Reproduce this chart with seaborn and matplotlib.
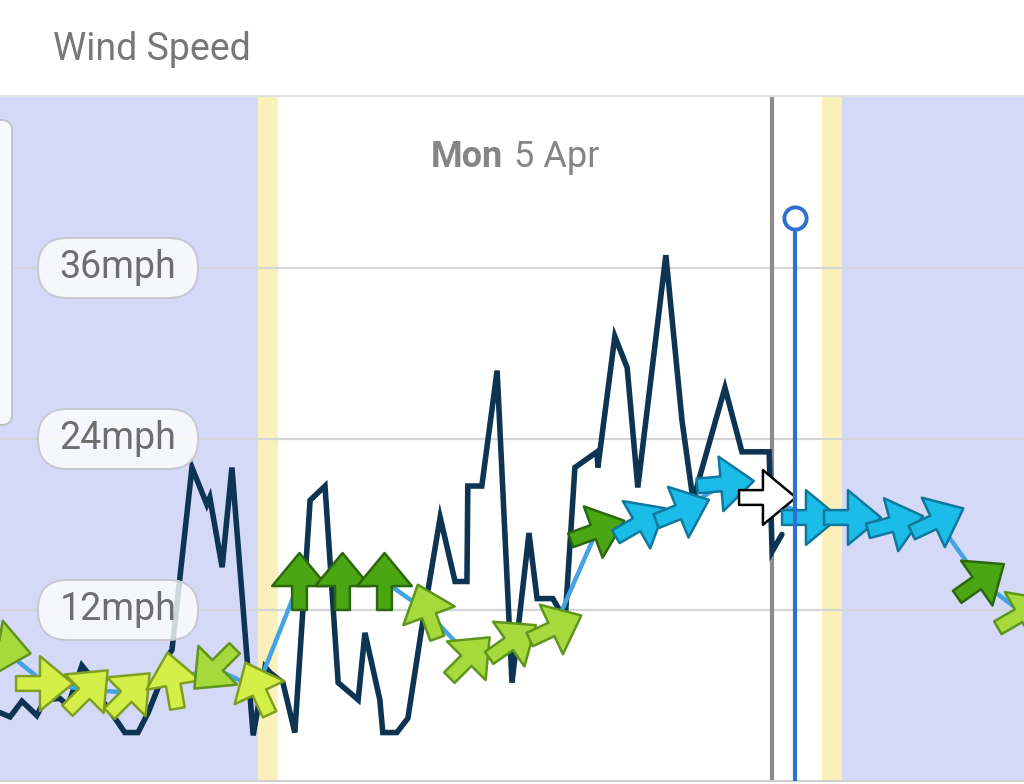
import numpy as np
import matplotlib
matplotlib.use("Agg")
import matplotlib.pyplot as plt
import seaborn as sns
from matplotlib.path import Path
from matplotlib.markers import MarkerStyle
from matplotlib.transforms import Affine2D
from matplotlib.patches import FancyBboxPatch

sns.set_theme(style="white")
plt.rcParams['font.family'] = ['Roboto', 'DejaVu Sans']

# hourly mean wind (mph) and arrow heading on screen (deg, 0 = pointing right)
hours = list(range(25))
mean_mph = [9.3, 6.9, 6.4, 6.2, 7.1, 7.9, 6.5, 14.0, 14.0, 14.0, 11.9, 8.7, 9.8,
            10.8, 17.6, 18.2, 19.0, 20.9, 19.9, 18.5, 18.5, 18.1, 18.3, 14.1, 11.8]
arrow_deg = [-10, 0, 45, 45, 100, 225, 115, 90, 90, 90, 110, 45, 35,
             25, 20, 30, 22, 5, 0, 0, 0, 15, 25, 35, 30]

# gusts
gust_hours = [-0.05, 0.19, 0.47, 0.82, 1.01, 1.36, 1.55, 1.88, 2.07, 2.35,
              2.73, 2.89, 3.20, 3.44, 3.72, 3.91, 4.00, 4.47, 4.82, 4.89,
              5.18, 5.41, 5.91, 6.19, 6.31, 6.61, 6.89, 7.25, 7.60, 7.91,
              8.38, 8.54, 8.89, 8.96, 9.29, 9.55, 9.88, 10.31, 10.66, 10.94,
              10.96, 11.29, 11.65, 12.00, 12.40, 12.59, 12.96, 13.25, 13.48, 14.00,
              14.02, 14.42, 14.71, 14.96, 15.62, 16.00, 16.26, 17.01, 17.41, 18.05,
              18.12, 18.35]
gust_mph = [4.8, 4.5, 5.6, 4.6, 5.7, 5.8, 5.3, 8.1, 7.4, 5.7,
            4.1, 3.4, 3.4, 4.8, 6.9, 8.8, 9.2, 22.0, 19.4, 19.9,
            15.0, 22.0, 3.2, 8.0, 7.6, 6.9, 3.4, 19.7, 20.7, 6.9,
            5.7, 10.4, 5.7, 3.4, 3.4, 4.4, 10.8, 18.5, 14.0, 14.0,
            20.7, 20.7, 28.8, 6.9, 17.4, 12.8, 12.8, 11.3, 22.0, 23.1,
            22.0, 31.2, 29.0, 20.6, 36.9, 25.3, 19.7, 27.6, 23.1, 23.1,
            16.1, 17.3]

grid_mph = [12, 24, 36]
grid_labels = ["12mph", "24mph", "36mph"]

dawn, sunrise, sunset, dusk = 6.02, 6.49, 19.29, 19.76
now_hour = 18.12
cursor_hour = 18.66
cursor_top = 39.5
current_idx = 18

# speed bands -> arrow colours
band_edges = [7.5, 12.0, 17.9]
band_fill = ["#d4ef47", "#a6da3c", "#4ba613", "#1bbce8"]
band_edge = ["#7f9f22", "#5f951d", "#2b680b", "#10789c"]

NIGHT = "#d4d9f8"
TWILIGHT = "#fbf0ba"

fig = plt.figure(figsize=(10.24, 7.84), dpi=100)
ax = fig.add_axes([0, 3 / 784, 1, 685 / 784])
x0, x1 = -0.047, 24.047
y1 = 48.07
ax.set_xlim(x0, x1)
ax.set_ylim(0, y1)

ax.axvspan(x0, dawn, color=NIGHT, lw=0, zorder=0)
ax.axvspan(dawn, sunrise, color=TWILIGHT, lw=0, zorder=0)
ax.axvspan(sunset, dusk, color=TWILIGHT, lw=0, zorder=0)
ax.axvspan(dusk, x1, color=NIGHT, lw=0, zorder=0)

for v in grid_mph:
    ax.axhline(v, color="#d6d6da", lw=1.6, zorder=1)

ax.axvline(now_hour, color="#8c8c8c", lw=3, zorder=2)

sns.lineplot(x=gust_hours, y=gust_mph, ax=ax, color="#0d3553", lw=4,
             estimator=None, solid_joinstyle="miter", zorder=3)
sns.lineplot(x=hours, y=mean_mph, ax=ax, color="#42a4e4", lw=3.2,
             estimator=None, zorder=4)

arrow = Path([(-0.5, -0.13), (-0.08, -0.13), (-0.08, -0.48), (0.5, 0.0),
              (-0.08, 0.48), (-0.08, 0.13), (-0.5, 0.13), (-0.5, -0.13)],
             [Path.MOVETO] + [Path.LINETO] * 6 + [Path.CLOSEPOLY])
bands = np.digitize(mean_mph, band_edges)
for i, (h, v, a) in enumerate(zip(hours, mean_mph, arrow_deg)):
    fc, ec = band_fill[bands[i]], band_edge[bands[i]]
    if i == current_idx:
        fc, ec = "white", "black"
    m = MarkerStyle(arrow, transform=Affine2D().rotate_deg(a))
    ax.plot(h, v, marker=m, ms=41, mfc=fc, mec=ec, mew=1.8, ls="none", zorder=5)

ax.vlines(cursor_hour, 0, cursor_top, color="#2f6fcf", lw=3, zorder=6)
ax.plot(cursor_hour, cursor_top, "o", ms=16, mfc="white", mec="#2f6fcf", mew=2.8, zorder=7)

# y labels in pill shapes (x in axes fraction, y in mph)
px_per_mph = 685 / y1
pill_w, pill_h = 160 / 1024, 60 / px_per_mph
for v, lab in zip(grid_mph, grid_labels):
    pill = FancyBboxPatch((38 / 1024, v - pill_h / 2), pill_w, pill_h,
                          boxstyle="round,pad=0,rounding_size=%f" % (29.5 / 1024),
                          mutation_aspect=1024 / px_per_mph,
                          transform=ax.get_yaxis_transform(),
                          fc=(1, 1, 1, 0.8), ec="#c6c8d2", lw=1.4, zorder=8)
    ax.add_patch(pill)
    ax.text(118 / 1024, v, lab, transform=ax.get_yaxis_transform(), ha="center",
            va="center", fontsize=27, color="#6e6e6e", zorder=9)

ax.set_xticks([])
ax.set_yticks([])
for s in ["left", "right"]:
    ax.spines[s].set_visible(False)
ax.spines["top"].set_color("#e0e0e0")
ax.spines["top"].set_linewidth(1.5)
ax.spines["bottom"].set_color("#cfcfcf")
ax.spines["bottom"].set_linewidth(1.5)

# partially visible side card
card = FancyBboxPatch((-20 / 1024, 1 - 425 / 784), 32 / 1024, 305 / 784,
                      boxstyle="round,pad=0,rounding_size=0.01",
                      mutation_aspect=1024 / 784, transform=fig.transFigure,
                      fc="#f7f8fd", ec="#c2c2c8", lw=1.4, zorder=10)
fig.add_artist(card)

fig.text(53 / 1024, 1 - 50 / 784, "Wind Speed", fontsize=27, color="#777777",
         ha="left", va="center")
fig.text(503 / 1024, 1 - 157 / 784, "Mon", fontsize=26, color="#858585",
         fontweight="bold", ha="right", va="center")
fig.text(514 / 1024, 1 - 157 / 784, "5 Apr", fontsize=26, color="#858585",
         ha="left", va="center")

fig.savefig("out.png", dpi=100)
